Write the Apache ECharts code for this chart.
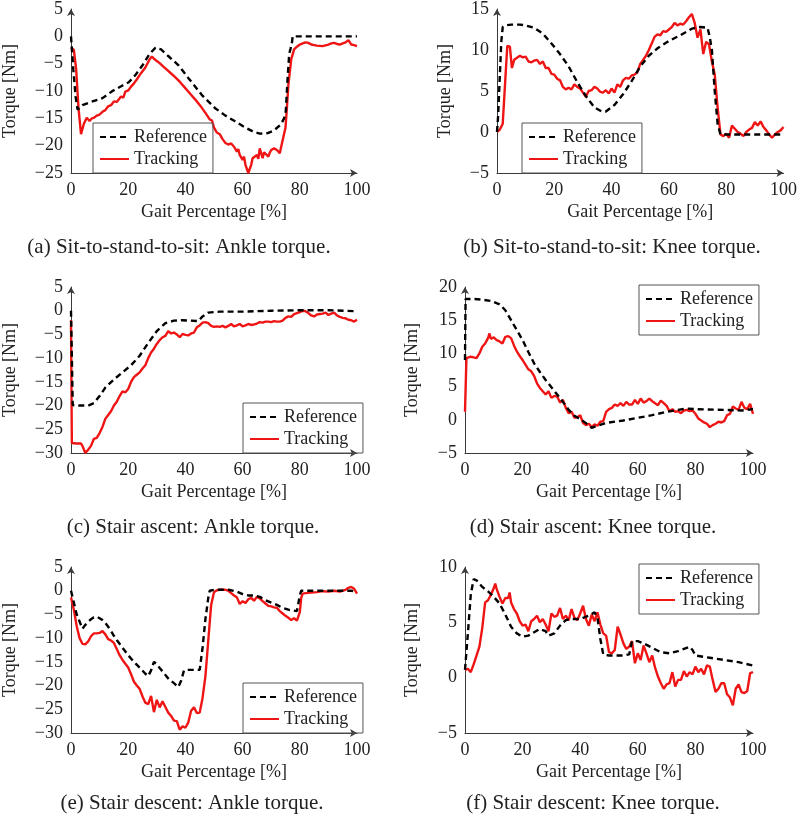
<!DOCTYPE html>
<html>
<head>
<meta charset="utf-8">
<script src="https://cdn.jsdelivr.net/npm/echarts@6/dist/echarts.min.js"></script>
<style>html,body{margin:0;padding:0;background:#fff}#c{width:800px;height:816px}</style>
</head>
<body>
<div id="c"></div>
<script>
// ---------- data ----------
const xTicks = [0, 20, 40, 60, 80, 100];
const seriesNames = ['Reference', 'Tracking'];
const captions = [
  '(a) Sit-to-stand-to-sit: Ankle torque.',
  '(b) Sit-to-stand-to-sit: Knee torque.',
  '(c) Stair ascent: Ankle torque.',
  '(d) Stair ascent: Knee torque.',
  '(e) Stair descent: Ankle torque.',
  '(f) Stair descent: Knee torque.'
];
const yRanges = [[-25, 5], [-5, 15], [-30, 5], [-5, 20], [-30, 5], [-5, 10]];

// (a) Sit-to-stand-to-sit ankle
const stsAnkleRef = [[0,0],[0.8,-6],[1.6,-11],[2.3,-13.4],[4,-12.6],[7,-12],[11,-11.3],[14.5,-10],[18,-9],[20.2,-8.4],[22.5,-7.1],[25,-5.3],[27.5,-3.2],[29.5,-2.1],[31.5,-2.4],[34,-3.6],[37.6,-5.3],[41,-7.6],[45.7,-10.7],[50.3,-13.1],[54,-14.5],[57.2,-15.5],[61,-16.7],[64,-17.5],[66,-17.8],[68.8,-17.7],[71,-17.2],[73.4,-16.1],[74.5,-15],[75.1,-13.7],[75.7,-8],[76.3,-3.2],[76.8,-2.2],[77.3,-1],[77.5,0],[80,0],[90,0],[100,0]];
const stsAnkleTrk = [[0,-2.1],[1,-2.5],[1.8,-6],[2.6,-13],[3.5,-17.9],[4.5,-16],[5.5,-14.9],[6.5,-15.5],[7.3,-15],[8,-14.9],[9,-14.5],[10,-14.3],[11,-13.8],[12,-13.5],[13,-12.8],[14,-12.6],[15,-11.9],[16,-12],[17.5,-11],[18.3,-11.2],[19,-10.1],[20,-9.9],[21,-9.2],[22,-8.6],[23,-7.9],[24,-7.1],[25,-6.4],[26,-5.7],[27.5,-4.2],[28.3,-3.7],[29,-4.1],[30,-4.5],[31,-4.9],[32,-5.4],[33.5,-6.1],[35,-6.8],[36.5,-7.5],[38,-8.3],[39.5,-9.2],[41,-10.1],[42.5,-11],[44,-11.9],[45.5,-12.9],[47,-14],[48.5,-15.2],[49.3,-15.4],[50,-16.7],[51,-17.6],[52,-17.9],[53,-18.8],[54,-19.5],[55,-19.8],[56,-19.6],[57,-20.2],[58,-21.1],[58.5,-20.6],[59,-21.7],[60,-22.6],[60.5,-22],[61,-23.5],[62,-25],[63,-23.5],[63.5,-22.3],[64,-22],[65,-21.7],[65.5,-22.4],[66,-20.5],[67,-22.3],[67.5,-21.2],[68,-21.1],[69,-22],[69.5,-21.3],[70,-20.8],[71,-20.5],[72,-20.8],[73,-21.4],[73.5,-20.2],[74,-19],[75,-16.7],[75.5,-13],[76,-8.9],[77,-4.2],[78,-2.4],[79,-1.9],[80,-1.5],[81,-1.3],[82,-1.1],[83,-1.2],[84,-1.5],[85,-1.6],[86,-1.7],[88,-1.8],[90,-1.5],[91,-1.3],[92,-1.2],[93,-1.4],[94,-1.5],[95,-1.3],[96,-1.1],[97,-0.7],[98,-1.5],[99,-1.6],[100,-1.8]];

// (b) Sit-to-stand-to-sit knee
const stsKneeRef = [[0,0],[0.4,2],[1,7],[1.5,11],[2,12.8],[3,13],[5,13.1],[8,13.1],[10,13],[13,12.7],[16,12],[19,10.8],[22,9.5],[25,8],[28,6.1],[31,4.4],[34,3],[36.5,2.5],[38,2.5],[41,3.3],[44,4.6],[47,6.2],[50,8],[53,9.3],[56,10.2],[60,11.1],[64,11.8],[68,12.6],[71,12.8],[73.5,12.7],[74.3,11.5],[75,10],[76,5],[77,1],[78,-0.3],[85,-0.3],[90,-0.3],[100,-0.3]];
const stsKneeTrk = [[0,0],[1,0.3],[2,1],[3,7],[3.6,10.5],[4.5,10.4],[5.2,7.8],[6,8.8],[6.5,9],[8,9.3],[9,9.1],[10,9.2],[11,8.6],[12,8.5],[13,8.7],[14,8.8],[15,8.3],[16,8.6],[17,7.8],[18,7.8],[19,7.1],[20,7],[21,6.5],[22,6.3],[23,5.5],[24,5.2],[25,5.4],[26,5.2],[27,5.8],[28,5.5],[29,5.3],[30,4.8],[31,4.3],[32,5],[33,5.1],[34,5.5],[35,5.3],[36,4.9],[37,4.8],[38,5.1],[39,4.7],[40,5.3],[41,4.8],[42,5.8],[43,5.5],[44,6.3],[45,6.6],[46,6.5],[47,6.9],[48,7],[49,7.3],[50,8.3],[51,8.8],[52,9.3],[53,10],[54,10.8],[55,11.6],[56,11.9],[57,11.8],[58,12.3],[59,12.2],[60,12.5],[61,12.8],[62,13.3],[63,13],[64,13.2],[65,13.1],[66,13.5],[67,14],[68,14.4],[69,13.3],[70,11.5],[71,12.5],[72,9.5],[73,11],[74,10.7],[75,8.6],[76,7],[77,3],[78,-0.3],[79,-0.5],[80,-0.2],[81,-0.7],[82,0.8],[83,0.4],[84,0],[85,-0.2],[86,-0.5],[87,0],[88,0.3],[89,0.5],[90,1.2],[91,0.8],[92,1.3],[93,0.6],[94,0.2],[95,-0.3],[96,-0.7],[97,-0.3],[98,0],[99,0.2],[100,0.6]];

// (c) Stair ascent ankle
const saAnkleRef = [[0,0],[0.3,-10],[0.6,-19.9],[3,-20],[6,-20],[8,-19.5],[10,-18],[12,-16.2],[15,-14.5],[18,-13],[21,-11.5],[24,-9.5],[27,-6.8],[30,-4.3],[33,-2.6],[36,-2.1],[39,-2],[42,-2.1],[44.5,-2.2],[46,-1.2],[48,-0.4],[52,-0.2],[60,-0.2],[70,0],[80,0.1],[90,0.1],[100,-0.1]];
const saAnkleTrk = [[0,-2],[0.3,-27.9],[2,-28],[3.5,-28],[4,-28.5],[5,-30],[6,-29.3],[7,-28.5],[8,-27],[9,-26.8],[10,-25.8],[11,-24.5],[12,-22.8],[13,-22],[14,-21.2],[15,-20],[16,-19.2],[17,-18],[18,-17],[19,-17.2],[20,-16.5],[21,-15],[22,-14],[23,-13.5],[24,-13],[25,-12.2],[26,-11.5],[27,-10],[28,-8.8],[29,-8],[30,-7],[31,-6.2],[32,-5.6],[33,-5.3],[34,-4.3],[35,-4.8],[36,-4.6],[37,-5],[38,-5.6],[39,-4.9],[40,-5.1],[41,-5.2],[42,-4.8],[43,-4.6],[44,-3.5],[45,-3.1],[46,-2.5],[47,-2.4],[48,-2.6],[49,-3.2],[50,-3.4],[51,-3.3],[52,-3.4],[53,-3.2],[54,-3.5],[55,-3.2],[56,-2.8],[57,-3.3],[58,-3.1],[59,-2.8],[60,-3.3],[61,-3.1],[62,-2.8],[63,-3],[64,-2.9],[65,-2.7],[66,-2.4],[67,-2.5],[68,-2.3],[69,-2.3],[70,-2.4],[71,-2.2],[72,-2.3],[73,-2.3],[74,-2.1],[75,-1.5],[76,-1.2],[77,-1.3],[78,-0.7],[79,-0.5],[80,-0.3],[81,0],[82,-0.1],[83,-0.5],[84,-1],[85,-1.2],[86,-0.8],[87,-0.7],[88,-0.6],[89,-0.4],[90,-0.9],[91,-0.6],[92,-0.4],[93,-1],[94,-1.3],[95,-1.5],[96,-1.6],[97,-1.9],[98,-2],[99,-2.3],[100,-1.9]];

// (d) Stair ascent knee
const saKneeRef = [[0,9],[0.2,18.2],[0.5,18.3],[3,18.2],[6,18.1],[9,17.9],[12,17.4],[14,16.5],[16,15],[18,13.5],[20,12],[22,10.2],[24,8.5],[26,7.2],[28,6],[30,4.9],[32,3.8],[34,2.7],[36,1.5],[38,0.6],[40,0.1],[42,-0.5],[44,-1.2],[46,-0.9],[48,-0.6],[50,-0.4],[55,-0.1],[60,0.3],[65,0.7],[70,1.2],[74,1.5],[77,1.7],[80,1.6],[90,1.5],[96,1.4],[100,1.6]];
const saKneeTrk = [[0,1.2],[0.5,9.3],[2,9.5],[3,9.4],[4,9.3],[5,10],[6,11],[7,11.5],[8,12.3],[8.5,13],[9,12.2],[10,12.4],[11,12],[12,11.8],[13,11.5],[14,12.5],[15,12.6],[16,12.3],[17,11.2],[18,10.3],[19,9.6],[20,9],[21,8.3],[22,7.6],[23,7.3],[24,6.6],[25,5.5],[26,4.8],[27,4.3],[28,3.8],[29,4.3],[30,3.3],[31,3.6],[32,3.5],[33,2.6],[34,3],[35,1.8],[36,1],[37,1.2],[38,0.3],[39,0.4],[40,0.7],[41,-0.5],[42,-0.8],[43,-0.6],[44,-1.1],[45,-0.7],[46,-0.9],[47,-0.3],[48,-0.2],[49,1.2],[50,1.6],[51,1.8],[52,2.3],[53,2.1],[54,2.5],[55,2.1],[56,2.7],[57,2.3],[58,2.3],[59,3],[60,2.4],[61,3.2],[62,2.6],[63,2.8],[64,3.2],[65,2.8],[66,2.5],[67,2.2],[68,2.9],[69,2.5],[70,2.1],[71,1.3],[72,1.6],[73,1.2],[74,1.3],[75,1],[76,1.4],[77,1.5],[78,1.3],[79,1.4],[80,0.9],[81,0.2],[82,-0.1],[83,-0.4],[84,-0.6],[85,-1.1],[86,-0.8],[87,-0.6],[88,-0.3],[89,-0.4],[90,-0.2],[91,0.7],[92,0.9],[93,2],[94,1.7],[95,1.5],[96,2.7],[97,1.8],[98,1.6],[99,2.4],[100,0.9]];

// (e) Stair descent ankle
const sdAnkleRef = [[0,0],[1,-2.5],[2,-5],[3,-6.5],[4,-8],[5,-7.2],[6,-6.6],[7,-6],[8,-5.6],[9,-5.5],[10,-5.8],[11,-6.2],[12,-6.8],[13,-7.6],[14,-8.5],[15,-9.5],[16,-10.4],[18,-12],[20,-13.6],[22,-15],[24,-16.2],[26,-17.5],[27,-18],[28,-16.8],[29,-15],[30,-15.5],[31,-16.3],[32,-17],[34,-18.5],[36,-19.5],[37.5,-20.3],[38.5,-19],[39.5,-16.8],[41,-16.7],[43,-16.7],[45,-16.7],[45.5,-16.5],[46,-12],[47,-6],[48,-1.5],[48.5,0],[50,0.2],[55,0.2],[58,-0.2],[60,-0.7],[62,-1],[64,-1],[66,-1.3],[68,-2],[70,-2.5],[72,-3],[74,-3.6],[76,-4],[78,-4.2],[79,-4.3],[80,-1],[80.5,0],[85,0],[90,0],[95,0],[98,0],[100,-0.3]];
const sdAnkleTrk = [[0,-1.4],[1,-4],[2,-7.5],[3,-10],[4,-11.2],[5,-11.3],[6,-10.7],[7,-9.6],[8,-9],[9,-9],[10,-8.9],[11,-8.5],[12,-9.2],[13,-10.2],[14,-10.5],[15,-11],[16,-12.3],[17,-13.6],[18,-14.6],[19,-15.4],[20,-16.2],[21,-17.6],[22,-19.2],[23,-20],[24,-20.7],[25,-22.3],[26,-23.6],[27,-23.9],[28,-22.2],[29,-25.6],[30,-23],[31,-24.6],[32,-23.3],[33,-24.5],[34,-25.7],[35,-26.4],[36,-27.4],[37,-27.5],[38,-29.3],[39,-28.6],[40,-28.9],[41,-27.8],[42,-25.3],[43,-24.6],[44,-25.8],[45,-25.7],[46,-22.6],[47,-18],[48,-10.5],[49,-3],[50,-0.3],[51,0.1],[52,0.2],[54,0.2],[55,0],[56,-0.5],[57,-1],[58,-1.4],[59,-2.8],[60,-2.2],[61,-2.6],[62,-1.8],[63,-1.5],[64,-2.1],[65,-1.3],[66,-1.6],[67,-2.2],[68,-2.7],[69,-3.2],[70,-3.3],[71,-3.5],[72,-3.6],[73,-4.3],[74,-4.8],[75,-5.3],[76,-5.7],[77,-6.2],[78,-5.8],[79,-6.3],[80,-4.5],[80.5,-1.5],[81,-0.6],[82,-0.5],[84,-0.4],[86,-0.3],[88,-0.1],[90,-0.2],[92,0],[94,-0.2],[96,0.2],[97,0.6],[98,0.8],[99,0.4],[100,-0.6]];

// (f) Stair descent knee
const sdKneeRef = [[0,0.7],[1,4],[2,7.5],[3,8.9],[4,8.8],[5,8.5],[6,8.2],[8,7.8],[10,7.3],[12,6.7],[14,5.7],[16,4.6],[18,4],[20,3.7],[22,3.8],[24,4.1],[26,4.4],[28,4.2],[29,3.8],[31,4],[33,4.7],[35,5.2],[37,5.3],[40,5.3],[43,5.6],[45,5.9],[46,5.4],[47,3.5],[48,2.1],[50,2],[55,2],[57,2.1],[58,3.3],[60,3.3],[62,3.1],[65,2.7],[68,2.3],[71,2.2],[74,2.4],[77,2.7],[78,2.8],[79,2.5],[80,2],[85,1.8],[90,1.6],[95,1.4],[100,1.1]];
const sdKneeTrk = [[0,0.7],[1,0.8],[2,0.5],[3,1.2],[4,2],[5,2.8],[6,4.5],[7,6.8],[8,7],[9,7.5],[10,8.1],[10.5,8.5],[11,8],[12,7.3],[13,6.7],[14,7.2],[15,7.2],[15.5,7.7],[16,6.8],[17,6.2],[18,5.8],[19,5.1],[20,4.7],[21,4.8],[22,4.2],[23,5.1],[24,5.3],[25,5.6],[26,5],[27,5.3],[28,4.8],[29,4.2],[30,5.8],[31,5.5],[32,5.6],[33,6.3],[34,5.3],[35,5.6],[36,5.2],[37,6.2],[38,5.4],[39,5.2],[40,5.8],[41,6.5],[42,5.3],[43,4.7],[44,5.7],[45,5.1],[46,5.9],[47,4.8],[48,4],[49,3.8],[50,2.3],[51,2.2],[52,2.5],[53,4.6],[54,3.9],[55,3.1],[56,2.6],[57,2.8],[58,3.3],[59,1.3],[60,2.2],[61,1.6],[62,2.9],[63,2.2],[64,1.4],[65,2],[66,0.9],[67,0.1],[68,-0.5],[69,-1],[70,-0.6],[71,-0.5],[72,0.5],[73,-0.8],[74,-0.2],[75,-0.2],[76,0.6],[77,0.1],[78,0.5],[79,0.3],[80,1],[81,0.5],[82,0.8],[83,0.3],[84,1.1],[85,1],[86,-0.2],[87,-1.3],[88,-1],[89,-0.5],[90,-0.5],[91,-1.5],[92,-1.8],[93,-2.5],[94,-1],[95,-0.6],[96,-1.3],[97,-1.4],[98,-1.2],[99,0.4],[100,0.5]];

const refData = [stsAnkleRef, stsKneeRef, saAnkleRef, saKneeRef, sdAnkleRef, sdKneeRef];
const trkData = [stsAnkleTrk, stsKneeTrk, saAnkleTrk, saKneeTrk, sdAnkleTrk, sdKneeTrk];

// ---------- layout ----------
const FONT = '"Liberation Serif", "Times New Roman", serif';
const grids = [
  {left: 68, top: 7, width: 289, height: 166},
  {left: 497, top: 7, width: 289, height: 166},
  {left: 68, top: 287, width: 289, height: 166},
  {left: 465, top: 287, width: 288, height: 166},
  {left: 68, top: 567, width: 289, height: 166},
  {left: 465, top: 567, width: 288, height: 166}
];
const yNameGaps = [52, 43, 52, 44, 52, 44];
const legendPos = [
  {left: 93, top: 123}, {left: 522, top: 123},
  {left: 243, top: 403}, {left: 639, top: 285},
  {left: 243, top: 683}, {left: 639, top: 564}
];
const captionPos = [[179, 247], [612, 247], [193, 527], [593, 527], [192, 803], [593, 803]];

const minus = v => String(v).replace('-', '\u2212');
const axisLine = {onZero: false, lineStyle: {color: '#3a3a3a', width: 1}, symbol: ['none', 'arrow'], symbolSize: [6, 7]};

const option = {
  backgroundColor: '#fff',
  animation: false,
  textStyle: {fontFamily: FONT},
  grid: grids,
  xAxis: grids.map((g, i) => ({
    type: 'value', gridIndex: i, min: 0, max: 100, interval: 20,
    name: 'Gait Percentage [%]', nameLocation: 'middle', nameGap: 30,
    nameTextStyle: {fontFamily: FONT, fontSize: 18, color: '#222'},
    axisLine: axisLine, axisTick: {show: false}, splitLine: {show: false},
    axisLabel: {fontFamily: FONT, fontSize: 18, color: '#222', margin: 8, formatter: minus}
  })),
  yAxis: grids.map((g, i) => ({
    type: 'value', gridIndex: i, min: yRanges[i][0], max: yRanges[i][1], interval: 5,
    name: 'Torque [Nm]', nameLocation: 'middle', nameGap: yNameGaps[i],
    nameTextStyle: {fontFamily: FONT, fontSize: 18, color: '#222'},
    axisLine: axisLine, axisTick: {show: false}, splitLine: {show: false},
    axisLabel: {fontFamily: FONT, fontSize: 18, color: '#222', margin: 8, formatter: minus}
  })),
  legend: legendPos.map(p => ({
    data: seriesNames, orient: 'vertical', left: p.left, top: p.top,
    borderColor: '#555', borderWidth: 1, borderRadius: 0, padding: [4, 6],
    itemWidth: 29, itemHeight: 10, itemGap: 2, selectedMode: false,
    itemStyle: {opacity: 0},
    textStyle: {fontFamily: FONT, fontSize: 18, color: '#222', lineHeight: 20}
  })),
  graphic: captions.map((t, i) => ({
    type: 'text', x: captionPos[i][0], y: captionPos[i][1],
    style: {text: t, font: '21px ' + FONT, fill: '#222', textAlign: 'center', textVerticalAlign: 'middle'}
  })),
  series: []
};
for (let i = 0; i < 6; i++) {
  option.series.push({
    name: 'Reference', type: 'line', xAxisIndex: i, yAxisIndex: i, data: refData[i],
    symbol: 'none', lineStyle: {color: '#000', width: 2.4, type: [6, 4]}, itemStyle: {color: '#000'}, z: 3
  });
  option.series.push({
    name: 'Tracking', type: 'line', xAxisIndex: i, yAxisIndex: i, data: trkData[i],
    symbol: 'none', lineStyle: {color: '#f01515', width: 2.4}, itemStyle: {color: '#f01515'}, z: 2
  });
}
const chart = echarts.init(document.getElementById('c'), null, {renderer: 'canvas'});
chart.setOption(option);
</script>
</body>
</html>
